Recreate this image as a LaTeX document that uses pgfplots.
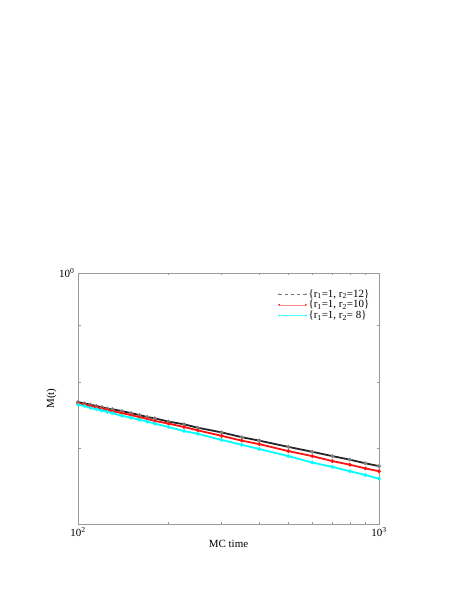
\documentclass[border=0pt]{standalone}
\usepackage{fontspec}
\setmainfont{Liberation Serif}
\usepackage{pgfplots}
\pgfplotsset{compat=1.18}

\definecolor{axgray}{gray}{0.6}
\definecolor{mkgray}{gray}{0.5}
\definecolor{lcyan}{RGB}{0,255,255}
\definecolor{lred}{RGB}{255,20,20}

\begin{document}
\begin{tikzpicture}
\path[use as bounding box] (0,0) rectangle (458bp,592bp);
\begin{axis}[
  at={(78bp,68bp)}, anchor=south west,
  scale only axis, width=301bp, height=251bp,
  xmode=log, ymode=log,
  xmin=100, xmax=1000, ymin=0.6, ymax=1,
  xtick={100,1000}, xticklabels={10\textsuperscript{2},10\textsuperscript{3}},
  ytick={1}, yticklabels={10\textsuperscript{0}},
  minor ytick={0.7,0.8,0.9},
  tick align=inside,
  major tick length=4bp, minor tick length=2.5bp,
  axis line style={axgray, line width=0.6pt},
  every tick/.style={axgray, line width=0.5pt},
  tick label style={font=\fontsize{11}{13}\selectfont},
  label style={font=\fontsize{11}{13}\selectfont},
  xlabel={MC time},
  ylabel={M(t)},
  xlabel style={yshift=3bp},
  ylabel style={yshift=-4bp},
  legend style={draw=none, fill=none, at={(0.985,0.95)}, anchor=north east,
    font=\fontsize{11}{13}\selectfont, row sep=-2.5bp},
  legend cell align=left,
  legend image code/.code={\draw[#1] plot coordinates {(0cm,0cm) (0.95cm,0cm)};},
]
\addplot[black!85, line width=1.8pt, mark=*, mark size=0.9pt,
  mark options={mkgray, solid},
  legend image post style={line width=0.4pt, black!55, dashed, mark size=0.6pt}] table {
100 0.769
105 0.767
110 0.765
115 0.763
120 0.761
125 0.759
130 0.758
140 0.755
150 0.752
160 0.749
170 0.746
180 0.744
200 0.739
225 0.735
250 0.730
300 0.723
350 0.716
400 0.711
500 0.702
600 0.695
700 0.689
800 0.684
900 0.679
1000 0.675
};
\addlegendentry{\{r\textsubscript{1}=1, r\textsubscript{2}=12\}}
\addplot[lred, line width=1.8pt, mark=*, mark size=0.8pt,
  mark options={lred},
  legend image post style={line width=0.4pt, red!45, mark size=0.6pt}] table {
100 0.767
105 0.765
110 0.763
115 0.761
120 0.759
125 0.757
130 0.755
140 0.752
150 0.749
160 0.746
170 0.743
180 0.740
200 0.736
225 0.731
250 0.726
300 0.718
350 0.711
400 0.706
500 0.696
600 0.689
700 0.682
800 0.677
900 0.672
1000 0.668
};
\addlegendentry{\{r\textsubscript{1}=1, r\textsubscript{2}=10\}}
\addplot[lcyan, line width=1.8pt, mark=*, mark size=0.8pt,
  mark options={lcyan},
  legend image post style={line width=0.4pt, lcyan!70, mark size=0.6pt}] table {
100 0.765
105 0.763
110 0.760
115 0.758
120 0.756
125 0.754
130 0.752
140 0.748
150 0.745
160 0.742
170 0.739
180 0.736
200 0.731
225 0.725
250 0.721
300 0.712
350 0.705
400 0.699
500 0.689
600 0.680
700 0.674
800 0.668
900 0.663
1000 0.658
};
\addlegendentry{\{r\textsubscript{1}=1, r\textsubscript{2}= 8\}}
\end{axis}
\end{tikzpicture}
\end{document}
